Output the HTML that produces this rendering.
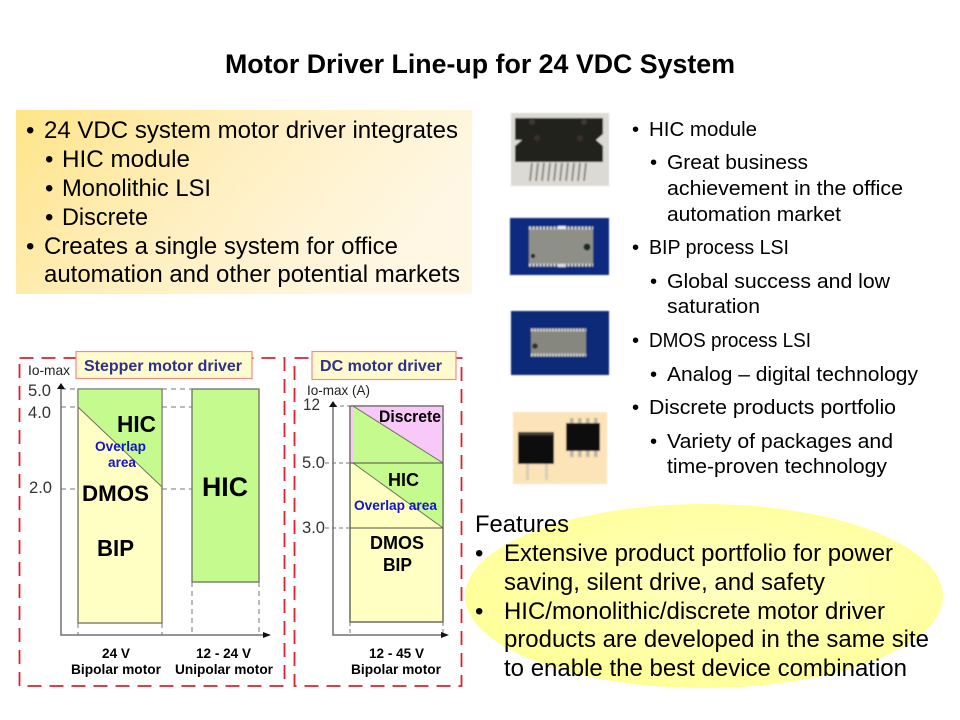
<!DOCTYPE html>
<html><head><meta charset="utf-8"><style>
html,body{margin:0;padding:0;background:#fff;width:960px;height:720px;overflow:hidden}
svg{display:block}
text{font-family:"Liberation Sans",sans-serif;fill:#000}
</style></head><body>
<svg width="960" height="720" viewBox="0 0 960 720" xmlns="http://www.w3.org/2000/svg">
<defs>
<linearGradient id="g1" x1="0" y1="0" x2="1" y2="0.35"><stop offset="0" stop-color="#FFE488"/><stop offset="0.5" stop-color="#FFEFC0"/><stop offset="1" stop-color="#FFF7E4"/></linearGradient>
<radialGradient id="g2" cx="0.55" cy="0.45" r="0.6"><stop offset="0" stop-color="#FFFFC0"/><stop offset="1" stop-color="#FFFF96"/></radialGradient>
<filter id="b" x="-10%" y="-10%" width="120%" height="120%"><feGaussianBlur stdDeviation="0.9"/></filter>
</defs>
<text x="225" y="73" font-size="27" font-weight="bold" textLength="510" lengthAdjust="spacingAndGlyphs">Motor Driver Line-up for 24 VDC System</text>

<rect x="16" y="110" width="456" height="184" fill="url(#g1)"/>
<g font-size="24">
<text x="26" y="138">•</text><text x="44" y="138" textLength="414" lengthAdjust="spacingAndGlyphs">24 VDC system motor driver integrates</text>
<text x="45" y="167">•</text><text x="62" y="167" textLength="128" lengthAdjust="spacingAndGlyphs">HIC module</text>
<text x="45" y="196">•</text><text x="62" y="196" textLength="149" lengthAdjust="spacingAndGlyphs">Monolithic LSI</text>
<text x="45" y="225">•</text><text x="62" y="225" textLength="86" lengthAdjust="spacingAndGlyphs">Discrete</text>
<text x="26" y="254">•</text><text x="44" y="254" textLength="354" lengthAdjust="spacingAndGlyphs">Creates a single system for office</text>
<text x="44" y="282" textLength="416" lengthAdjust="spacingAndGlyphs">automation and other potential markets</text>
</g>

<!-- chip photos -->
<g filter="url(#b)">
<rect x="511" y="113" width="98" height="73" fill="#dcdad4"/>
<path d="M515 118H603V134L596 140L603 146V162H515V146L522 140H515V133Z" fill="#24221e"/>
<circle cx="532" cy="122" r="3" fill="#3a3834"/><circle cx="584" cy="122" r="3" fill="#3a3834"/><circle cx="537" cy="138" r="3" fill="#3a2e2a"/><circle cx="580" cy="138" r="3" fill="#3a2e2a"/>
<path d="M530 163H592" stroke="#e8e6e0" stroke-width="0" />
<g stroke="#8e8a82" stroke-width="2"><path d="M532 163L530 181M538 163L536 181M544 163L542 181M550 163L548 181M556 163L554 181M562 163L560 181M568 163L566 181M574 163L572 181M580 163L578 181M586 163L584 181"/></g>
<rect x="510" y="218" width="99" height="57" fill="#0f2c80"/>
<rect x="529" y="229" width="64" height="35" fill="#8e9088"/>
<path d="M529 228H593M529 265H593" stroke="#d8d8d4" stroke-width="3" stroke-dasharray="2 1.500"/>
<rect x="558" y="226" width="8" height="3" fill="#eee"/><rect x="558" y="264" width="8" height="3" fill="#ddd"/>
<circle cx="587" cy="247" r="3.500" fill="#1e2a24"/><circle cx="533" cy="256" r="2.200" fill="#1e2a24"/>
<rect x="511" y="311" width="98" height="64" fill="#0e2a78"/>
<rect x="531" y="331" width="55" height="23" fill="#868880"/>
<path d="M531 330H586M531 355H586" stroke="#d4d4cc" stroke-width="3" stroke-dasharray="2 1"/>
<circle cx="535" cy="346" r="2.800" fill="#2c302a"/>
<rect x="513" y="412" width="94" height="72" fill="#FDE3B8"/>
<rect x="518" y="432" width="36" height="32" fill="#0c0c0c"/>
<rect x="518" y="433" width="36" height="2" fill="#444"/>
<rect x="526" y="464" width="3" height="16" fill="#d8cfb8"/><rect x="545" y="464" width="3" height="16" fill="#d8cfb8"/>
<rect x="566" y="423" width="34" height="28" fill="#0c0c0c"/>
<g fill="#b8b4a6"><rect x="570" y="418" width="3.500" height="5"/><rect x="578" y="418" width="3.500" height="5"/><rect x="586" y="418" width="3.500" height="5"/><rect x="594" y="418" width="3.500" height="5"/><rect x="570" y="451" width="3.500" height="6"/><rect x="578" y="451" width="3.500" height="6"/><rect x="586" y="451" width="3.500" height="6"/><rect x="594" y="451" width="3.500" height="6"/></g>
</g>

<g font-size="20.300">
<text x="632" y="136">•</text><text x="649" y="136" textLength="108" lengthAdjust="spacingAndGlyphs">HIC module</text>
<text x="650" y="169">•</text><text x="667" y="169" textLength="141" lengthAdjust="spacingAndGlyphs">Great business</text>
<text x="667" y="195" textLength="236" lengthAdjust="spacingAndGlyphs">achievement in the office</text>
<text x="667" y="221" textLength="174" lengthAdjust="spacingAndGlyphs">automation market</text>
<text x="632" y="254">•</text><text x="649" y="254" textLength="140" lengthAdjust="spacingAndGlyphs">BIP process LSI</text>
<text x="650" y="288">•</text><text x="667" y="288" textLength="223" lengthAdjust="spacingAndGlyphs">Global success and low</text>
<text x="667" y="313" textLength="93" lengthAdjust="spacingAndGlyphs">saturation</text>
<text x="632" y="347">•</text><text x="649" y="347" textLength="162" lengthAdjust="spacingAndGlyphs">DMOS process LSI</text>
<text x="650" y="381">•</text><text x="667" y="381" textLength="251" lengthAdjust="spacingAndGlyphs">Analog – digital technology</text>
<text x="632" y="414">•</text><text x="649" y="414" textLength="247" lengthAdjust="spacingAndGlyphs">Discrete products portfolio</text>
<text x="650" y="448">•</text><text x="667" y="448" textLength="226" lengthAdjust="spacingAndGlyphs">Variety of packages and</text>
<text x="667" y="473" textLength="220" lengthAdjust="spacingAndGlyphs">time-proven technology</text>
</g>

<ellipse cx="704" cy="596" rx="239" ry="92" fill="url(#g2)"/>
<g font-size="24">
<text x="475" y="532" textLength="94" lengthAdjust="spacingAndGlyphs">Features</text>
<text x="475" y="561">•</text><text x="504" y="561" textLength="389" lengthAdjust="spacingAndGlyphs">Extensive product portfolio for power</text>
<text x="504" y="590" textLength="321" lengthAdjust="spacingAndGlyphs">saving, silent drive, and safety</text>
<text x="475" y="619">•</text><text x="504" y="619" textLength="381" lengthAdjust="spacingAndGlyphs">HIC/monolithic/discrete motor driver</text>
<text x="504" y="647" textLength="425" lengthAdjust="spacingAndGlyphs">products are developed in the same site</text>
<text x="504" y="676" textLength="403" lengthAdjust="spacingAndGlyphs">to enable the best device combination</text>
</g>

<!-- Stepper panel -->
<rect x="19.500" y="358" width="265" height="328" fill="none" stroke="#E0202C" stroke-width="1.800" stroke-dasharray="14 8"/>
<rect x="76" y="351.500" width="176" height="27" fill="#FFFBCF" stroke="#F08C80" stroke-width="1.200"/>
<text x="84" y="371" font-size="16" font-weight="bold" style="fill:#2E3288" textLength="158" lengthAdjust="spacingAndGlyphs">Stepper motor driver</text>
<text x="28" y="375" font-size="14" textLength="42" lengthAdjust="spacingAndGlyphs" style="fill:#222">Io-max</text>
<rect x="78" y="389" width="84" height="234" fill="#FFFFC4" stroke="#707060" stroke-width="1.300"/>
<path d="M78 389H162V487L78 407Z" fill="#C4FA8E" stroke="#707060" stroke-width="1"/>
<rect x="192" y="389" width="67" height="193" fill="#C4FA8E" stroke="#707060" stroke-width="1.300"/>
<g stroke="#777" stroke-width="1" stroke-dasharray="5 4" fill="none">
<path d="M61 389H78M162 389H192M61 407H78M162 407H192M61 489H78M162 489H192"/>
<path d="M78 623V635M162 623V635M192 582V635M259 582V635"/>
</g>
<path d="M61 386V635H267" fill="none" stroke="#707070" stroke-width="1.500"/>
<path d="M61 383L57 389H65Z" fill="#111"/><path d="M271 635L263 632V638Z" fill="#111"/>
<text x="28" y="396" font-size="16.500" style="fill:#333" textLength="23" lengthAdjust="spacingAndGlyphs">5.0</text><text x="28" y="418" font-size="16.500" style="fill:#333" textLength="23" lengthAdjust="spacingAndGlyphs">4.0</text><text x="29" y="493" font-size="16.500" style="fill:#333" textLength="23" lengthAdjust="spacingAndGlyphs">2.0</text>
<text x="117" y="432" font-size="23" font-weight="bold" textLength="39" lengthAdjust="spacingAndGlyphs">HIC</text>
<text x="95" y="451" font-size="14" font-weight="bold" style="fill:#1414C8" textLength="51" lengthAdjust="spacingAndGlyphs">Overlap</text>
<text x="108" y="467" font-size="14" font-weight="bold" style="fill:#1414C8" textLength="28" lengthAdjust="spacingAndGlyphs">area</text>
<text x="82" y="501" font-size="22" font-weight="bold" textLength="67" lengthAdjust="spacingAndGlyphs">DMOS</text>
<text x="97" y="556" font-size="23" font-weight="bold" textLength="37" lengthAdjust="spacingAndGlyphs">BIP</text>
<text x="202" y="496" font-size="27" font-weight="bold" textLength="46" lengthAdjust="spacingAndGlyphs">HIC</text>
<g font-size="14" font-weight="bold" style="fill:#222">
<text x="102" y="658" textLength="28" lengthAdjust="spacingAndGlyphs">24 V</text><text x="71" y="674" textLength="90" lengthAdjust="spacingAndGlyphs">Bipolar motor</text>
<text x="196" y="658" textLength="55" lengthAdjust="spacingAndGlyphs">12 - 24 V</text><text x="175" y="674" textLength="98" lengthAdjust="spacingAndGlyphs">Unipolar motor</text>
</g>

<!-- DC panel -->
<rect x="294.500" y="358" width="167" height="328" fill="none" stroke="#E0202C" stroke-width="1.800" stroke-dasharray="14 8"/>
<rect x="312" y="351.500" width="144" height="28" fill="#FFFBCF" stroke="#F08C80" stroke-width="1.200"/>
<text x="320" y="371" font-size="16" font-weight="bold" style="fill:#2E3288" textLength="122" lengthAdjust="spacingAndGlyphs">DC motor driver</text>
<text x="307" y="395" font-size="14" textLength="63" lengthAdjust="spacingAndGlyphs" style="fill:#222">Io-max (A)</text>
<rect x="350" y="406" width="93" height="216" fill="#FFFFC4" stroke="#606055" stroke-width="1.200"/>
<rect x="350" y="406" width="93" height="57" fill="#F8C8F8"/>
<path d="M353 406L443 463H353Z" fill="#C4FA8E"/>
<path d="M353 463H443V528Z" fill="#C4FA8E"/>
<path d="M353 406L443 463M353 463L443 528" stroke="#707060" stroke-width="1" fill="none"/>
<path d="M350 463H443M350 528H443" stroke="#505048" stroke-width="1.100" fill="none"/>
<rect x="350" y="406" width="93" height="216" fill="none" stroke="#606055" stroke-width="1.200"/>
<g stroke="#777" stroke-width="1" stroke-dasharray="4 3" fill="none">
<path d="M333 406H350M325 463H350M325 528H350M350 622V635M443 622V635"/>
</g>
<path d="M333 405V635H444" fill="none" stroke="#707070" stroke-width="1.500"/>
<path d="M333 401L329 407H337Z" fill="#111"/><path d="M449 635L441 632V638Z" fill="#111"/>
<text x="303" y="410" font-size="16.500" style="fill:#333" textLength="17" lengthAdjust="spacingAndGlyphs">12</text><text x="302" y="468" font-size="16.500" style="fill:#333" textLength="23" lengthAdjust="spacingAndGlyphs">5.0</text><text x="302" y="533" font-size="16.500" style="fill:#333" textLength="23" lengthAdjust="spacingAndGlyphs">3.0</text>
<text x="379" y="422" font-size="16.500" font-weight="bold" textLength="62" lengthAdjust="spacingAndGlyphs">Discrete</text>
<text x="388" y="486" font-size="18" font-weight="bold" textLength="31" lengthAdjust="spacingAndGlyphs">HIC</text>
<text x="354" y="510" font-size="14" font-weight="bold" style="fill:#1414C8" textLength="83" lengthAdjust="spacingAndGlyphs">Overlap area</text>
<text x="370" y="549" font-size="18" font-weight="bold" textLength="54" lengthAdjust="spacingAndGlyphs">DMOS</text>
<text x="383" y="571" font-size="18" font-weight="bold" textLength="29" lengthAdjust="spacingAndGlyphs">BIP</text>
<g font-size="14" font-weight="bold" style="fill:#222">
<text x="369" y="658" textLength="55" lengthAdjust="spacingAndGlyphs">12 - 45 V</text><text x="351" y="674" textLength="90" lengthAdjust="spacingAndGlyphs">Bipolar motor</text>
</g>
</svg>
</body></html>
